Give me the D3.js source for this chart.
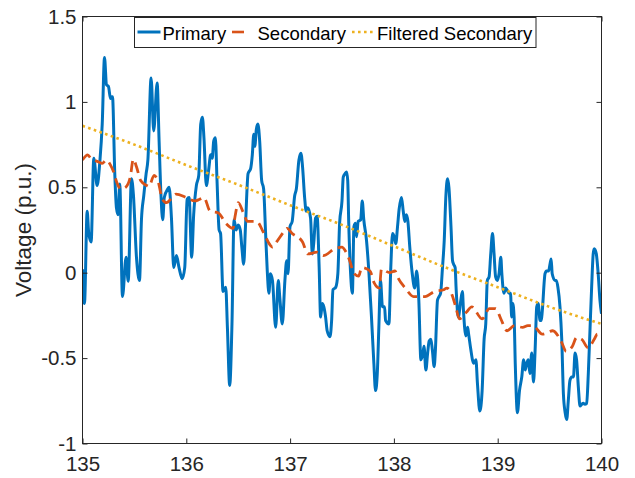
<!DOCTYPE html>
<html>
<head>
<meta charset="utf-8">
<script src="https://cdn.jsdelivr.net/npm/d3@7"></script>
<style>
html,body{margin:0;padding:0;background:#fff;}
svg{display:block;font-family:"Liberation Sans",Arial,Helvetica,sans-serif;}
</style>
</head>
<body>
<svg id="chart" width="635" height="478"></svg>
<script>
// ---- data ----
const xTicks = [135,136,137,138,139,140];
const xTickLabels = ["135","136","137","138","139","140"];
const yTicks = [-1,-0.5,0,0.5,1,1.5];
const yTickLabels = ["-1","-0.5","0","0.5","1","1.5"];
const seriesNames = ["Primary","Secondary","Filtered Secondary"];

const primaryT = [135.00,135.019,135.045,135.06,135.083,135.109,135.141,135.167,135.19,135.212,135.231,135.25,135.27,135.289,135.311,135.327,135.343,135.359,135.385,135.42,135.44,135.472,135.49,135.52,135.549,135.568,135.59,135.613,135.63,135.661,135.686,135.719,135.738,135.757,135.773,135.788,135.821,
135.834,135.857,135.879,135.905,135.93,135.96,135.985,136.008,136.027,136.052,136.071,136.097,136.12,136.139,136.155,136.17,136.193,136.215,136.235,136.25,136.264,136.28,136.296,136.316,136.33,136.354,136.38,136.396,136.418,136.44,136.46,136.48,136.50,136.52,136.535,136.553,136.57,136.595,136.62,136.636,136.65,
136.66,136.675,136.69,136.707,136.726,136.745,136.764,136.78,136.796,136.81,136.83,136.861,136.886,136.90,136.925,136.95,136.967,136.98,136.999,137.02,137.044,137.06,137.085,137.104,137.12,137.14,137.155,137.17,137.197,137.214,137.23,137.245,137.26,137.28,137.294,137.31,137.325,137.342,137.357,137.384,137.40,137.413,137.44,137.46,137.477,137.50,
137.512,137.53,137.544,137.555,137.565,137.583,137.60,137.615,137.63,137.64,137.656,137.68,137.695,137.71,137.736,137.76,137.784,137.807,137.823,137.84,137.855,137.871,137.89,137.91,137.92,137.952,137.97,137.987,138.003,138.018,138.035,138.05,138.073,138.09,138.105,138.12,138.135,138.153,138.177,138.2,138.22,138.24,138.26,138.28,138.29,
138.308,138.325,138.34,138.356,138.37,138.388,138.40,138.42,138.435,138.45,138.468,138.485,138.50,138.517,138.53,138.55,138.565,138.575,138.59,138.60,138.62,138.645,138.66,138.67,138.693,138.71,138.72,138.741,138.757,138.77,138.79,138.805,138.828,138.85,138.869,138.885,138.90,138.917,138.933,138.95,138.965,138.98,138.997,139.013,139.03,139.04,139.06,139.076,139.09,139.11,139.123,139.135,139.145,139.158,
139.17,139.19,139.21,139.232,139.25,139.265,139.28,139.295,139.31,139.328,139.345,139.36,139.376,139.39,139.408,139.42,139.43,139.456,139.47,139.49,139.504,139.515,139.525,139.552,139.565,139.58,139.60,139.617,139.633,139.65,139.665,139.68,139.696,139.713,139.73,139.745,139.76,139.777,139.793,139.81,139.825,139.84,139.857,139.873,139.89,139.905,139.92,139.93,139.95,139.968,139.985,140.0];

const primaryV = [0.02,-0.18,0.36,0.23,0.18,0.67,0.51,0.65,0.87,1.26,1.10,1.09,1.02,1.03,0.58,0.38,0.34,0.52,-0.14,0.09,-0.05,0.55,0.46,0.09,-0.045,0.31,0.45,0.58,0.66,1.14,0.83,1.11,0.77,0.44,0.31,0.44,0.49,
0.50,0.32,0.03,0.10,0.03,-0.035,0.03,0.43,0.44,0.09,0.34,0.51,0.57,0.87,0.91,0.79,0.51,0.60,0.69,0.67,0.77,0.79,0.54,0.25,0.23,-0.11,-0.085,-0.32,-0.66,-0.30,0.31,0.25,0.28,0.25,0.15,0.05,0.27,0.58,0.61,0.69,0.81,
0.74,0.84,0.87,0.77,0.54,0.49,0.23,0.01,-0.12,-0.006,-0.045,-0.32,-0.045,-0.14,-0.30,-0.045,0.07,-0.006,0.27,0.30,0.45,0.49,0.66,0.70,0.62,0.44,0.36,0.38,0.32,0.11,0.19,0.32,0.33,0.03,-0.26,-0.18,-0.20,-0.26,-0.34,-0.375,-0.28,-0.10,-0.085,-0.006,0.29,0.42,
0.56,0.58,0.59,0.54,0.29,-0.006,-0.12,0.27,0.29,0.21,0.30,0.31,0.42,0.31,0.19,-0.006,-0.26,-0.53,-0.69,-0.59,-0.32,-0.045,-0.20,-0.20,-0.28,-0.30,0.03,0.23,0.21,0.17,0.27,0.37,0.44,0.36,0.30,0.34,0.30,0.15,-0.006,-0.09,0.01,-0.16,-0.51,-0.47,-0.43,
-0.57,-0.47,-0.40,-0.39,-0.45,-0.55,-0.45,-0.16,-0.14,-0.12,0.03,0.19,0.44,0.55,0.50,0.27,0.07,0.05,0.03,-0.10,-0.26,-0.16,-0.11,-0.22,-0.37,-0.32,-0.36,-0.45,-0.51,-0.53,-0.51,-0.65,-0.81,-0.69,-0.39,-0.30,-0.045,-0.025,0.11,0.23,0.11,-0.025,-0.045,-0.006,0.09,-0.006,-0.12,-0.09,-0.10,-0.12,-0.12,-0.26,-0.18,-0.26,
-0.55,-0.82,-0.69,-0.61,-0.51,-0.57,-0.53,-0.51,-0.59,-0.47,-0.64,-0.46,-0.20,-0.18,-0.28,-0.28,-0.22,-0.006,0.01,0.01,0.05,0.08,-0.006,-0.045,-0.045,-0.085,-0.20,-0.39,-0.71,-0.82,-0.86,-0.75,-0.63,-0.61,-0.61,-0.47,-0.51,-0.67,-0.78,-0.77,-0.765,-0.77,-0.765,-0.59,-0.32,-0.085,0.11,0.14,0.11,-0.006,-0.16,-0.24];

const secondaryT = [135.00,135.05,135.08,135.15,135.19,135.23,135.27,135.30,135.33,135.37,135.415,135.46,135.49,135.52,135.56,135.62,135.64,135.69,135.73,135.77,135.81,135.85,135.90,136.00,136.08,136.13,136.17,136.23,136.31,136.38,136.45,136.47,136.50,136.55,136.59,136.68,136.74,136.81,136.83,136.87,136.94,136.97,137.02,137.12,137.17,137.26,137.32,137.43,137.50,137.53,137.58,137.61,137.66,137.69,137.77,137.81,137.86,137.88,137.96,138.01,138.04,138.11,138.19,138.30,138.39,138.48,138.51,138.56,138.60,138.63,138.70,138.75,138.85,138.92,138.98,139.03,139.09,139.16,139.24,139.29,139.34,139.43,139.53,139.61,139.66,139.72,139.76,139.81,139.87,139.93,139.96,140.0];
const secondaryV = [0.66,0.69,0.67,0.65,0.64,0.66,0.63,0.59,0.53,0.49,0.50,0.56,0.665,0.62,0.54,0.51,0.505,0.57,0.53,0.43,0.41,0.43,0.46,0.44,0.42,0.43,0.44,0.36,0.35,0.29,0.26,0.33,0.41,0.35,0.30,0.30,0.24,0.16,0.15,0.18,0.24,0.26,0.23,0.18,0.11,0.12,0.10,0.14,0.15,0.13,0.06,0.0,-0.02,0.03,0.01,-0.06,-0.09,0.02,0.0,0.01,-0.03,-0.09,-0.14,-0.14,-0.11,-0.10,-0.09,-0.13,-0.21,-0.27,-0.23,-0.20,-0.27,-0.21,-0.21,-0.27,-0.34,-0.31,-0.32,-0.31,-0.31,-0.36,-0.34,-0.40,-0.46,-0.43,-0.38,-0.39,-0.44,-0.39,-0.36,-0.37];

const filteredT = [135.0,135.5,136.0,136.5,137.0,137.5,138.0,138.5,139.0,139.5,140.0];
const filteredV = [0.86,0.75,0.63,0.515,0.395,0.28,0.155,0.03,-0.085,-0.2,-0.30];

const colors = ["#0072BD","#D95319","#EDB120"];

// ---- layout ----
const svg = d3.select("#chart");
const L = 82.5, R = 601.5, T = 16.5, B = 443.5;
const x = d3.scaleLinear().domain([135,140]).range([L,R]);
const y = d3.scaleLinear().domain([-1,1.5]).range([B,T]);
const axisColor = "#262626";

svg.append("defs").append("clipPath").attr("id","clip")
  .append("rect").attr("x",L).attr("y",T).attr("width",R-L).attr("height",B-T);

const mkLine = ()=>d3.line().x(d=>x(d[0])).y(d=>y(d[1])).curve(d3.curveMonotoneX);
const zip = (a,b)=>a.map((v,i)=>[v,b[i]]);

const plot = svg.append("g").attr("clip-path","url(#clip)");
plot.append("path").datum(zip(primaryT,primaryV))
  .attr("d",mkLine()).attr("fill","none").attr("stroke",colors[0])
  .attr("stroke-width",3).attr("stroke-linejoin","round");
plot.append("path").datum(zip(secondaryT,secondaryV))
  .attr("d",mkLine()).attr("fill","none").attr("stroke",colors[1])
  .attr("stroke-width",2.8).attr("stroke-dasharray","11 6");
plot.append("path").datum(zip(filteredT,filteredV))
  .attr("d",mkLine())
  .attr("fill","none").attr("stroke",colors[2])
  .attr("stroke-width",2.6).attr("stroke-dasharray","2.6 3.4");

// axes
const fmtX = d=>xTickLabels[xTicks.indexOf(d)];
const fmtY = d=>yTickLabels[yTicks.indexOf(d)];
function styleAxis(g){
  g.select(".domain").remove();
  g.selectAll(".tick line").attr("stroke",axisColor);
  g.selectAll(".tick text").attr("fill",axisColor).style("font-size","20.5px")
   .style("font-family",'"Liberation Sans",Arial,Helvetica,sans-serif');
}
svg.append("g").attr("transform",`translate(0,${B})`)
  .call(d3.axisBottom(x).tickValues(xTicks).tickFormat(fmtX).tickSize(-5).tickSizeOuter(0).tickPadding(13))
  .call(styleAxis);
svg.append("g").attr("transform",`translate(0,${T})`)
  .call(d3.axisTop(x).tickValues(xTicks).tickFormat("").tickSize(-5).tickSizeOuter(0))
  .call(styleAxis);
svg.append("g").attr("transform",`translate(${L},0)`)
  .call(d3.axisLeft(y).tickValues(yTicks).tickFormat(fmtY).tickSize(-5).tickSizeOuter(0).tickPadding(6))
  .call(styleAxis);
svg.append("g").attr("transform",`translate(${R},0)`)
  .call(d3.axisRight(y).tickValues(yTicks).tickFormat("").tickSize(-5).tickSizeOuter(0))
  .call(styleAxis);

svg.append("rect").attr("x",L).attr("y",T).attr("width",R-L).attr("height",B-T)
  .attr("fill","none").attr("stroke",axisColor).attr("stroke-width",1);

// y label
svg.append("text").attr("transform",`translate(31,${(T+B)/2}) rotate(-90)`)
  .attr("text-anchor","middle").attr("fill",axisColor)
  .style("font-size","22.5px").text("Voltage (p.u.)");

// legend
const lg = svg.append("g");
lg.append("rect").attr("x",134.5).attr("y",17.5).attr("width",401.5).attr("height",30)
  .attr("fill","#fff").attr("stroke",axisColor).attr("stroke-width",1);
const legendItems = [
  {x1:137.5,x2:160.5,tx:162.5,dash:null},
  {x1:232,x2:244,tx:257.5,dash:null},
  {x1:352,x2:375,tx:377,dash:"2.6 3.4"}
];
legendItems.forEach((it,i)=>{
  lg.append("line").attr("x1",it.x1).attr("x2",it.x2).attr("y1",32).attr("y2",32)
    .attr("stroke",colors[i]).attr("stroke-width",i===0?3:2.6)
    .attr("stroke-dasharray",it.dash);
  lg.append("text").attr("x",it.tx).attr("y",40.3).attr("fill","#000")
    .style("font-size","18.5px").text(seriesNames[i]);
});
</script>
</body>
</html>
